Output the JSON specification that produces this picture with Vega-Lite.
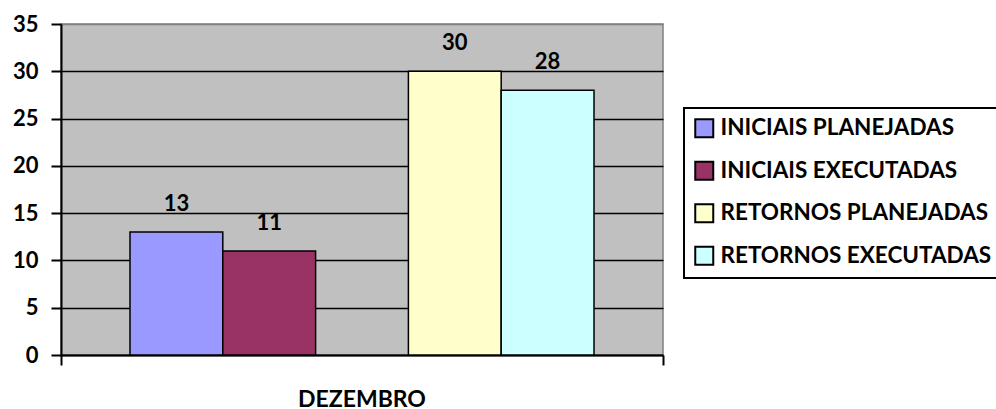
{
  "$schema": "https://vega.github.io/schema/vega-lite/v6.json",
  "width": 602,
  "height": 331,
  "autosize": {"type": "none"},
  "padding": {"left": 61, "top": 24, "right": 333, "bottom": 54},
  "background": "white",
  "config": {
    "font": "Lato",
    "view": {"fill": "#C0C0C0", "stroke": "#808080", "strokeWidth": 1.5},
    "axis": {"labelFont": "Lato", "labelFontWeight": "bold", "labelColor": "black", "domainColor": "black", "tickColor": "black"},
    "legend": {"strokeWidth": 2, "strokeColor": "black"}
  },
  "data": {
    "values": [
      {"mes": "DEZEMBRO", "serie": "INICIAIS PLANEJADAS", "valor": 13},
      {"mes": "DEZEMBRO", "serie": "INICIAIS EXECUTADAS", "valor": 11},
      {"mes": "DEZEMBRO", "serie": "RETORNOS PLANEJADAS", "valor": 30},
      {"mes": "DEZEMBRO", "serie": "RETORNOS EXECUTADAS", "valor": 28}
    ]
  },
  "encoding": {
    "xOffset": {
      "field": "serie", "type": "nominal",
      "scale": {"domain": ["INICIAIS PLANEJADAS", "INICIAIS EXECUTADAS", "GAP", "RETORNOS PLANEJADAS", "RETORNOS EXECUTADAS"], "paddingInner": 0, "paddingOuter": 0.7435}
    },
    "y": {
      "field": "valor", "type": "quantitative",
      "scale": {"domain": [0, 35], "nice": false},
      "axis": {"title": null, "values": [0, 5, 10, 15, 20, 25, 30, 35], "labelFontSize": 22, "labelPadding": 13, "tickSize": 10, "tickWidth": 2, "domainWidth": 2, "grid": true,
        "gridColor": {"condition": {"test": "datum.value === 35", "value": "#808080"}, "value": "black"}, "gridWidth": 1.5, "gridOpacity": 1}
    }
  },
  "layer": [
    {
      "mark": {"type": "bar", "stroke": "black", "strokeWidth": 1.5},
      "encoding": {
        "x": {
          "field": "mes", "type": "nominal",
          "scale": {"paddingOuter": 0, "paddingInner": 0},
          "axis": {"title": null, "labelFontSize": 23, "labelPadding": 23, "tickSize": 10, "tickWidth": 2, "domainWidth": 2, "bandPosition": 0, "labelAngle": 0, "labelBound": false}
        },
        "color": {
          "field": "serie", "type": "nominal",
          "scale": {"domain": ["INICIAIS PLANEJADAS", "INICIAIS EXECUTADAS", "RETORNOS PLANEJADAS", "RETORNOS EXECUTADAS"], "range": ["#9999FF", "#993366", "#FFFFCC", "#CCFFFF"]},
          "legend": {
            "title": null, "orient": "none", "legendX": 623, "legendY": 84,
            "symbolType": "square", "symbolSize": 324, "symbolStrokeColor": "black", "symbolStrokeWidth": 2, "symbolOpacity": 1,
            "labelFont": "Lato", "labelFontWeight": "bold", "labelFontSize": 22.5, "labelColor": "black", "labelOffset": 5, "labelLimit": 400,
            "rowPadding": 15.5, "padding": 9, "strokeColor": "black", "fillColor": "white"
          }
        }
      }
    },
    {
      "mark": {"type": "text", "dy": -28, "fontWeight": "bold", "fontSize": 22, "font": "Lato", "color": "black"},
      "encoding": {
        "x": {
          "field": "mes", "type": "nominal",
          "axis": {"title": null, "labels": false, "tickSize": 10, "tickWidth": 2, "domain": false, "bandPosition": 1, "orient": "bottom"}
        },
        "text": {"field": "valor", "type": "quantitative"}
      }
    }
  ],
  "resolve": {"axis": {"x": "independent"}}
}
